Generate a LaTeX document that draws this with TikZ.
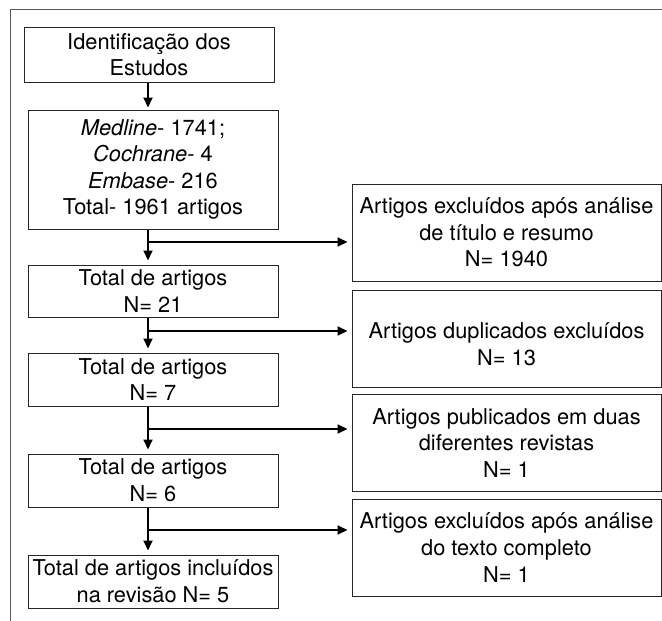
\documentclass[tikz,border=0pt]{standalone}
\usepackage{fontspec}
\setmainfont{TeX Gyre Heros}
\usetikzlibrary{arrows.meta}

\begin{document}
\begin{tikzpicture}[x=1pt, y=-1pt, >={Triangle[length=10pt,width=9pt]},
        box/.style={draw=black!85, line width=1pt, align=center, inner xsep=2pt, minimum width=250pt, font=\fontsize{21.8}{26.6}\selectfont},
        side/.style={box, minimum width=309pt, minimum height=97pt},
        arr/.style={->, line width=2pt, shorten >=4pt}]
        \useasboundingbox (0,0) rectangle (662,621);
        \draw[black!65, line width=1pt](10,621)--(10,9)--(662,9);
        \node[box, minimum height=55pt] (ident) at (149,54.5){Identificação dos\\Estudos};
        \node[box, minimum height=119pt] (src) at (153,169.5){\textit{Medline}- 1741;\\\textit{Cochrane}- 4\\\textit{Embase}- 216\\Total- 1961 artigos};
        \node[box, minimum height=52pt] (tot1) at (153,291){Total de artigos\\N= 21};
        \node[box, minimum height=53pt] (tot2) at (153,379.5){Total de artigos\\N= 7};
        \node[box, minimum height=53pt] (tot3) at (153,480.5){Total de artigos\\N= 6};
        \node[box, minimum height=53pt] (final) at (153,581.5){Total de artigos incluídos\\na revisão N= 5};
        \node[side] (exc1) at (506.5,232.5){Artigos excluídos após análise\\de título e resumo\\N= 1940};
        \node[side] (dup) at (506.5,339){\mbox{}\\Artigos duplicados excluídos\\N= 13};
        \node[side] (pub) at (506.5,443){Artigos publicados em duas\\diferentes revistas\\N= 1};
        \node[side] (exc2) at (506.5,547.5){Artigos excluídos após análise\\do texto completo\\N= 1};
        \coordinate (j1) at (148,242);
        \coordinate (j2) at (148,331);
        \coordinate (j3) at (148,429);
        \coordinate (j4) at (148,530);
        \draw[arr, shorten >=2pt](ident.south -| j1)--(src.north -| j1);
        \draw[arr](src.south -| j1)--(tot1.north -| j1);
        \draw[arr](tot1.south -| j1)--(tot2.north -| j1);
        \draw[arr](tot2.south -| j1)--(tot3.north -| j1);
        \draw[arr](tot3.south -| j1)--(final.north -| j1);
        \draw[arr](j1)--(j1 -| exc1.west);
        \draw[arr](j2)--(j2 -| dup.west);
        \draw[arr](j3)--(j3 -| pub.west);
        \draw[arr](j4)--(j4 -| exc2.west);
    \end{tikzpicture}
\end{document}
